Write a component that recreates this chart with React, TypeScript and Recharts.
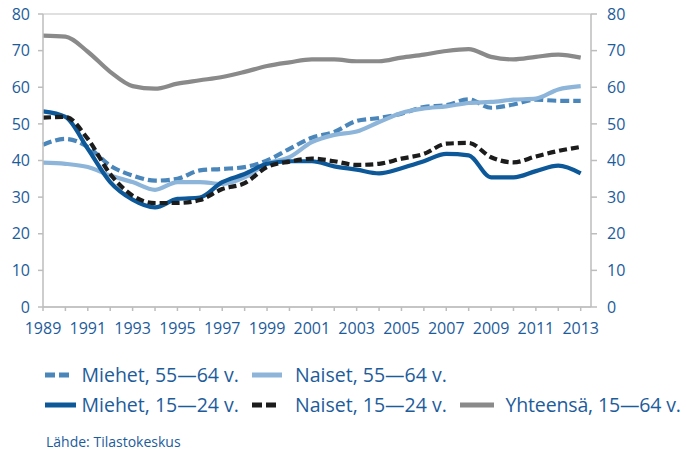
import React from "react";
import { LineChart, Line, XAxis, YAxis, CartesianGrid } from "recharts";

const years = [1989, 1990, 1991, 1992, 1993, 1994, 1995, 1996, 1997, 1998, 1999, 2000, 2001, 2002, 2003, 2004, 2005, 2006, 2007, 2008, 2009, 2010, 2011, 2012, 2013];

const miehet5564 = [44.3, 45.9, 43.7, 38.6, 35.9, 34.5, 35.0, 37.3, 37.7, 38.2, 40.0, 43.2, 46.2, 47.8, 50.8, 51.6, 52.8, 54.6, 55.1, 56.7, 54.4, 55.3, 56.6, 56.3, 56.3];
const naiset5564 = [39.4, 39.1, 38.2, 35.9, 34.1, 32.0, 34.1, 34.1, 33.6, 35.4, 39.1, 40.9, 45.0, 47.0, 47.9, 50.5, 53.0, 54.2, 54.8, 55.7, 56.0, 56.6, 56.9, 59.4, 60.3];
const miehet1524 = [53.4, 51.9, 43.2, 34.1, 29.3, 27.2, 29.5, 29.9, 34.1, 36.3, 39.1, 39.8, 39.8, 38.4, 37.5, 36.5, 37.9, 39.8, 41.8, 41.4, 35.4, 35.4, 37.1, 38.6, 36.5];
const naiset1524 = [51.7, 51.9, 45.9, 36.3, 30.4, 28.4, 28.4, 29.2, 32.2, 33.8, 38.2, 39.7, 40.5, 39.8, 38.8, 39.1, 40.5, 41.8, 44.6, 44.8, 40.9, 39.5, 41.1, 42.6, 43.7];
const yhteensa1564 = [74.1, 73.8, 69.7, 64.2, 60.3, 59.6, 61.0, 61.9, 62.8, 64.2, 65.8, 66.8, 67.6, 67.6, 67.1, 67.1, 68.1, 68.9, 69.9, 70.4, 68.3, 67.6, 68.3, 68.9, 68.1];

const yTicks = [0, 10, 20, 30, 40, 50, 60, 70, 80];
const sourceText = "Lähde: Tilastokeskus";

const series = [
  { key: "m5564", name: "Miehet, 55\u201464 v.", color: "#4a86b9", dash: "9 4", values: miehet5564 },
  { key: "n5564", name: "Naiset, 55\u201464 v.", color: "#8db5d9", dash: undefined, values: naiset5564 },
  { key: "m1524", name: "Miehet, 15\u201424 v.", color: "#0c5898", dash: undefined, values: miehet1524 },
  { key: "n1524", name: "Naiset, 15\u201424 v.", color: "#1c1c1c", dash: "8 4", values: naiset1524 },
  { key: "yht", name: "Yhteens\u00e4, 15\u201464 v.", color: "#8a8a8a", dash: undefined, values: yhteensa1564 },
];

const data = years.map((y, i) => {
  const row: Record<string, number> = { year: y };
  series.forEach((s) => {
    row[s.key] = s.values[i];
  });
  return row;
});

const TEXT = "#1d5c9b";
const AXIS = "#bdbdbd";
const FONT = "'Open Sans', sans-serif";

const legendLayout = [
  { idx: 0, x: 45, y: 375, iconW: 25, textX: 81.5, ls: 0 },
  { idx: 1, x: 252, y: 375, iconW: 30, textX: 295, ls: 0 },
  { idx: 2, x: 45, y: 405, iconW: 31, textX: 81.5, ls: 0 },
  { idx: 3, x: 252, y: 405, iconW: 25, textX: 295, ls: 0 },
  { idx: 4, x: 460, y: 405, iconW: 34, textX: 505.5, ls: -0.15 },
];

function LegendIcon({ color, dash, w }: { color: string; dash?: string; w: number }) {
  return (
    <svg width={w} height={8} style={{ display: "block" }}>
      <line x1={0} y1={4} x2={w} y2={4} stroke={color} strokeWidth={5} strokeDasharray={dash ? "10 4" : undefined} />
    </svg>
  );
}

export default function App() {
  return (
    <div style={{ position: "absolute", left: 0, top: 0, width: 686, height: 450, background: "#fff", fontFamily: FONT }}>
      <LineChart width={686} height={450} data={data} margin={{ top: 14, right: 35, left: 0, bottom: 113 }}>
        <CartesianGrid horizontal={true} vertical={false} stroke="#d6d6d6" strokeWidth={1.5} />
        <XAxis
          dataKey="year"
          type="number"
          domain={[1989, 2013.46]}
          ticks={years}
          interval={0}
          height={30}
          tickFormatter={(v: number) => (v % 2 === 1 ? String(v) : "")}
          stroke={AXIS}
          strokeWidth={1.5}
          tickSize={4}
          tickMargin={12}
          tick={{ fill: TEXT, fontSize: 16, fontFamily: FONT }}
        />
        <YAxis
          yAxisId="l"
          domain={[0, 80]}
          ticks={yTicks}
          width={43}
          stroke={AXIS}
          strokeWidth={1.5}
          tickSize={5}
          tickMargin={8}
          tick={{ fill: TEXT, fontSize: 16, fontFamily: FONT }}
        />
        <YAxis
          yAxisId="r"
          orientation="right"
          domain={[0, 80]}
          ticks={yTicks}
          width={60}
          stroke={AXIS}
          strokeWidth={1.5}
          tickSize={6}
          tickMargin={10}
          allowDataOverflow
          tick={{ fill: TEXT, fontSize: 16, fontFamily: FONT, textAnchor: "start" }}
        />
        {series.map((s) => (
          <Line
            key={s.key}
            yAxisId="l"
            dataKey={s.key}
            name={s.name}
            type="monotone"
            stroke={s.color}
            strokeWidth={4.2}
            strokeDasharray={s.dash}
            dot={false}
            activeDot={false}
            isAnimationActive={false}
          />
        ))}
      </LineChart>
      {legendLayout.map((l) => {
        const s = series[l.idx];
        return (
          <React.Fragment key={s.key}>
            <div style={{ position: "absolute", left: l.x, top: l.y - 4 }}>
              <LegendIcon color={s.color} dash={s.dash} w={l.iconW} />
            </div>
            <div
              style={{ position: "absolute", left: l.textX, top: l.y - 15, height: 30, fontSize: 19.5, letterSpacing: l.ls, color: TEXT, lineHeight: "30px", whiteSpace: "nowrap" }}
            >
              {s.name}
            </div>
          </React.Fragment>
        );
      })}
      <div style={{ position: "absolute", left: 46, top: 431, height: 22, fontSize: 14, color: TEXT, lineHeight: "22px", whiteSpace: "nowrap" }}>
        {sourceText}
      </div>
    </div>
  );
}
